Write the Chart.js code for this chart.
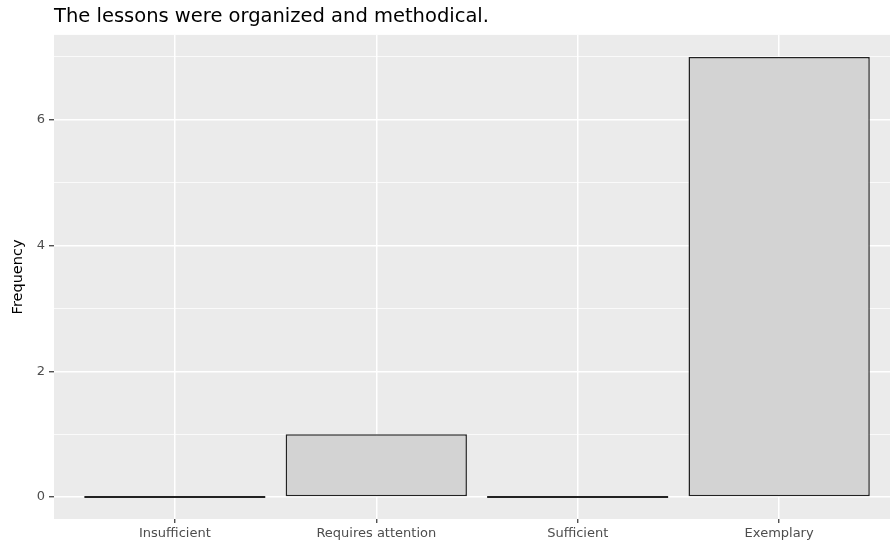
<!DOCTYPE html>
<html>
<head>
<meta charset="utf-8">
<script src="https://cdn.jsdelivr.net/npm/chart.js@4.4.1/dist/chart.umd.min.js"></script>
<style>
  body { margin: 0; background: #fff; overflow: hidden; }
  #wrap { width: 900px; height: 546px; }
</style>
</head>
<body>
<div id="wrap"><canvas id="chart" width="900" height="546"></canvas></div>
<script>
const chartTitle = 'The lessons were organized and methodical.';
const categories = ['Insufficient', 'Requires attention', 'Sufficient', 'Exemplary'];
const frequencies = [0, 1, 0, 7];
const yTicks = [0, 1, 2, 3, 4, 5, 6, 7];   // odd ones are minor grid lines
const yLabelEvery = 2;

const fontFamily = '"DejaVu Sans", sans-serif';

// grey panel behind the plot
const panelBg = {
  id: 'panelBg',
  beforeDraw(chart) {
    const { ctx, chartArea: a } = chart;
    ctx.save();
    ctx.fillStyle = '#EBEBEB';
    ctx.fillRect(a.left, a.top, a.right - a.left, a.bottom - a.top);
    ctx.restore();
  }
};

const isMajor = v => v % yLabelEvery === 0;

new Chart(document.getElementById('chart'), {
  type: 'bar',
  data: {
    datasets: [{
      data: frequencies.map((v, i) => ({ x: i, y: v })),
      backgroundColor: '#D3D3D3',
      borderColor: '#222222',
      borderWidth: 1.5,
      borderSkipped: false,
      minBarLength: 2,
      categoryPercentage: 0.9,
      barPercentage: 1
    }]
  },
  options: {
    responsive: false,
    animation: false,
    layout: { padding: 0 },
    plugins: {
      legend: { display: false },
      tooltip: { enabled: false },
      title: {
        display: true,
        text: chartTitle,
        align: 'start',
        fullSize: false,
        color: '#000',
        font: { family: fontFamily, size: 19.5, weight: 'normal' },
        padding: { top: 5, bottom: 6.5 }
      }
    },
    scales: {
      x: {
        type: 'linear',
        min: -0.6,
        max: 3.6,
        offset: false,
        afterBuildTicks: s => { s.ticks = categories.map((c, i) => ({ value: i })); },
        afterFit: s => { s.height = 27; },
        border: { display: false },
        grid: { color: '#FFFFFF', lineWidth: 1.5, offset: false, tickColor: '#333333', tickLength: 4, tickWidth: 1.2 },
        ticks: {
          autoSkip: false,
          maxRotation: 0,
          padding: 3,
          color: '#4D4D4D',
          font: { family: fontFamily, size: 13 },
          callback: v => categories[v]
        }
      },
      y: {
        min: -0.35,
        max: 7.35,
        afterBuildTicks: s => { s.ticks = yTicks.map(v => ({ value: v })); },
        afterFit: s => { s.width = 54; },
        border: { display: false },
        grid: {
          color: '#FFFFFF',
          lineWidth: c => isMajor(c.tick.value) ? 1.5 : 0.75,
          tickColor: c => isMajor(c.tick.value) ? '#333333' : 'rgba(0,0,0,0)',
          tickLength: 5,
          tickWidth: 1.2
        },
        ticks: {
          padding: 4,
          color: '#4D4D4D',
          font: { family: fontFamily, size: 13 },
          callback: v => isMajor(v) ? String(v) : ''
        },
        title: {
          display: true,
          text: 'Frequency',
          color: '#000',
          font: { family: fontFamily, size: 14.5 },
          padding: { top: 10, bottom: 0 }
        }
      }
    }
  },
  plugins: [panelBg]
});
</script>
</body>
</html>
